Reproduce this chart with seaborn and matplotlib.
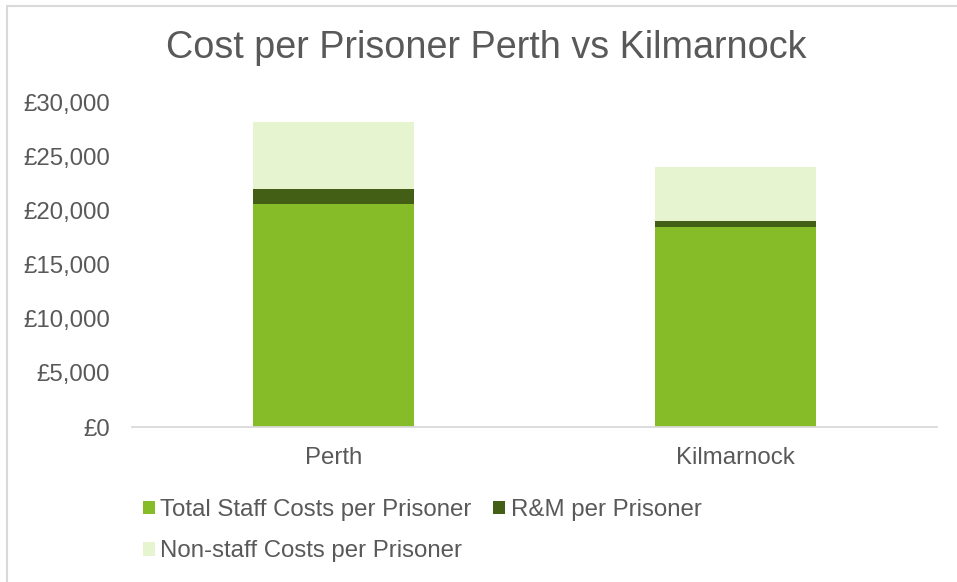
import matplotlib
matplotlib.use("Agg")
import matplotlib.pyplot as plt
from matplotlib.patches import Patch, Rectangle
import seaborn as sns
import pandas as pd

# Cost per prisoner, split into three components
prisons = ["Perth", "Kilmarnock"]
staff_costs = [20650, 18550]
rm_costs = [1360, 500]
non_staff_costs = [6260, 5050]
y_ticks = [0, 5000, 10000, 15000, 20000, 25000, 30000]
series_names = ["Total Staff Costs per Prisoner", "R&M per Prisoner",
                "Non-staff Costs per Prisoner"]
colors = ["#85BC28", "#435F16", "#E6F4D0"]

TEXT = "#595959"
FS = 17.3

sns.set_theme(style="white")
plt.rcParams["font.family"] = ["Liberation Sans", "DejaVu Sans"]

df = pd.DataFrame({
    "prison": prisons,
    "staff": staff_costs,
    "rm": rm_costs,
    "non_staff": non_staff_costs,
})
df["lvl1"] = df["staff"]
df["lvl2"] = df["staff"] + df["rm"]
df["lvl3"] = df["lvl2"] + df["non_staff"]

W, H = 957, 582
fig = plt.figure(figsize=(W / 100, H / 100), dpi=100)
fig.patch.set_facecolor("white")

# chart frame (top/left edges visible)
fig.add_artist(Rectangle((7 / W, -0.1), 1.2, (H - 6) / H + 0.1,
                         transform=fig.transFigure, fill=False,
                         edgecolor="#D9D9D9", linewidth=1.5))

ax = fig.add_axes([132 / W, (H - 427) / H, (937 - 132) / W, (427 - 103) / H])

# stacked bars drawn as cumulative layers, tallest first
for col, color in zip(["lvl3", "lvl2", "lvl1"], colors[::-1]):
    sns.barplot(data=df, x="prison", y=col, color=color, width=0.4,
                saturation=1, ax=ax, order=prisons, linewidth=0)

ax.set_xlim(-0.5, 1.5)
ax.set_ylim(0, 30000)
ax.set_yticks(y_ticks)
ax.set_yticklabels([f"£{v:,.0f}" for v in y_ticks])
ax.set_xlabel("")
ax.set_ylabel("")
for s in ["top", "right", "left"]:
    ax.spines[s].set_visible(False)
ax.spines["bottom"].set_color("#D9D9D9")
ax.spines["bottom"].set_linewidth(1.3)
ax.tick_params(axis="y", length=0, pad=15.8, labelsize=FS, labelcolor=TEXT)
ax.tick_params(axis="x", length=0, pad=14.5, labelsize=FS, labelcolor=TEXT)

fig.text(486 / W, 1 - 48 / H, "Cost per Prisoner Perth vs Kilmarnock",
         ha="center", va="center", fontsize=27.2, color=TEXT)

# legend laid out row-wise: column 1 holds items 1 and 3, column 2 holds item 2
handles = [Patch(facecolor=c, edgecolor="none") for c in colors]
order = [0, 2, 1]
leg = fig.legend([handles[i] for i in order], [series_names[i] for i in order],
                 ncol=2, loc="upper left", bbox_to_anchor=(143 / W, 1 - 499 / H),
                 frameon=False, fontsize=FS, handlelength=0.5, handleheight=0.5,
                 handletextpad=0.22, columnspacing=0.9, labelspacing=0.8,
                 borderaxespad=0, borderpad=0)
for t in leg.get_texts():
    t.set_color(TEXT)

fig.savefig("out.png", dpi=100, facecolor="white")
